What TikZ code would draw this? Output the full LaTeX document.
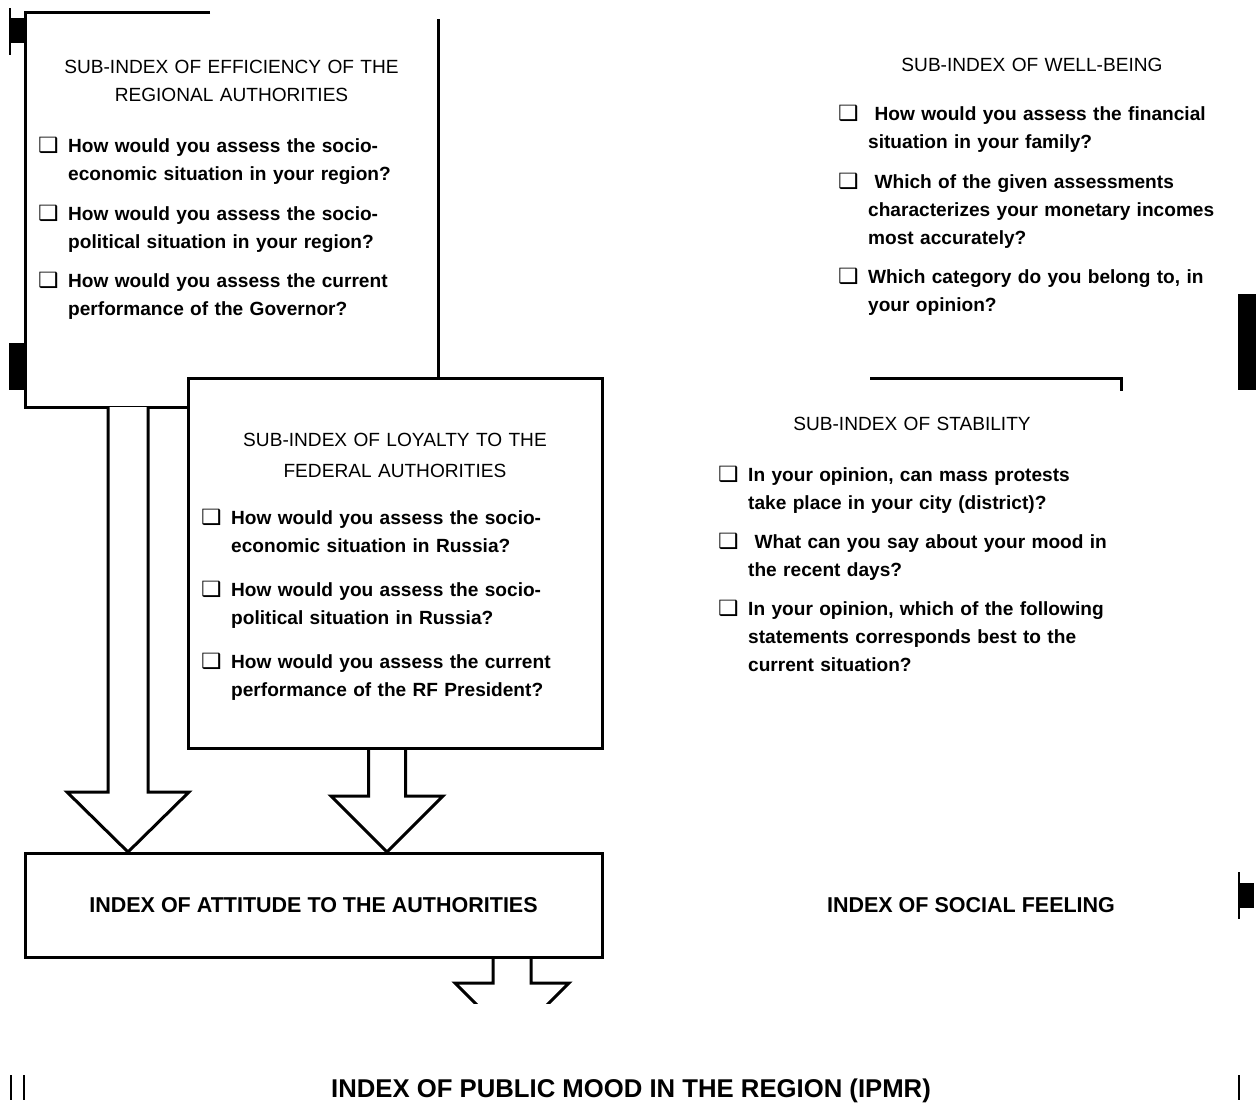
\documentclass[tikz,border=0pt]{standalone}
\usepackage{fontspec}
\setmainfont{Liberation Sans}
\newfontfamily\symfont{DejaVu Sans}
\usepackage{graphicx}
\usepackage{tikz}
\usetikzlibrary{positioning}

\newcommand{\cbox}{\scalebox{1.2}[1.1]{\symfont\char"2751}}
\newcommand{\qitem}[1]{\hangindent=30pt\hangafter=1\makebox[30pt][l]{\cbox}\strut#1\par}
\newcommand{\qgap}[1][12pt]{\vspace{#1}}

\tikzset{
  edge/.style={line width=3pt, line join=miter},
  heading/.style={anchor=base, text width=440pt, align=center, inner sep=0pt,
    font=\fontsize{19.1}{28}\selectfont},
  qblock/.style={anchor=base west, text width=420pt, align=left, inner sep=0pt,
    font=\fontsize{19.1}{28}\selectfont\bfseries},
  title/.style={inner sep=0pt, font=\fontsize{21.5}{26}\selectfont\bfseries},
}

\begin{document}
\begin{tikzpicture}[x=1pt, y=-1pt]
    \useasboundingbox (0,0) rectangle (1256,1106);

    % left block (regional authorities)
    \draw[edge] (210,12) -- (25,12) -- (25,407) -- (188,407);
    \draw[edge] (438,19) -- (438,378);
    \node[heading] (effhead) at (231.5,73) {SUB-INDEX OF EFFICIENCY OF THE\\REGIONAL AUTHORITIES};
    \node[qblock] (effq) at (38,152) {%
        \qitem{How would you assess the socio-\newline economic situation in your region?}\qgap
        \qitem{How would you assess the socio-\newline political situation in your region?}\qgap[11pt]
        \qitem{How would you assess the current\newline performance of the Governor?}};

    % block arrows
    \foreach \x/\top/\neck/\tip/\s/\h in {128/407/792/852/20/61, 387/748/796/852/18.5/56}
        \draw[edge, fill=white] (\x-\s,\top) -- (\x-\s,\neck) -- (\x-\h,\neck) -- (\x,\tip)
            -- (\x+\h,\neck) -- (\x+\s,\neck) -- (\x+\s,\top);
    \begin{scope}
        \clip (0,950) rectangle (1256,1003);
        \draw[edge] (493,957) -- (493,983) -- (455,983) -- (512,1040)
            -- (569,983) -- (531,983) -- (531,957);
    \end{scope}

    % federal authorities
    \draw[edge, fill=white] (188,378) rectangle (602,748);
    \node[heading, font=\fontsize{19.1}{31}\selectfont] (loyhead) at (395,446) {SUB-INDEX OF LOYALTY TO THE\\FEDERAL AUTHORITIES};
    \node[qblock] (loyq) at (201,524) {%
        \qitem{How would you assess the socio-\newline economic situation in Russia?}\qgap[16pt]
        \qitem{How would you assess the socio-\newline political situation in Russia?}\qgap[16pt]
        \qitem{How would you assess the current\newline performance of the RF President?}};

    \node[title, draw, edge, minimum width=577pt, minimum height=104pt] (attitude) at (313.5,905)
        {INDEX OF ATTITUDE TO THE AUTHORITIES};

    % well-being
    \node[heading] (wellhead) at (1032,71) {SUB-INDEX OF WELL-BEING};
    \node[qblock] (wellq) at (838,120) {%
        \qitem{\ How would you assess the financial\newline situation in your family?}\qgap
        \qitem{\ Which of the given assessments\newline characterizes your monetary incomes\newline most accurately?}\qgap[11pt]
        \qitem{Which category do you belong to, in\newline your opinion?}};

    % stability
    \draw[edge] (870,378) -- (1121,378) -- (1121,391);
    \node[heading] (stabhead) at (912,430) {SUB-INDEX OF STABILITY};
    \node[qblock] (stabq) at (718,481) {%
        \qitem{In your opinion, can mass protests\newline take place in your city (district)?}\qgap[11pt]
        \qitem{\ What can you say about your mood in\newline the recent days?}\qgap[11pt]
        \qitem{In your opinion, which of the following\newline statements corresponds best to the\newline current situation?}};

    \node[title, anchor=base] (social) at (971,912) {INDEX OF SOCIAL FEELING};
    \node[title, anchor=base, font=\fontsize{25.7}{30}\selectfont\bfseries] (ipmr) at (631,1097)
        {INDEX OF PUBLIC MOOD IN THE REGION (IPMR)};

    % stray marks at the edges
    \draw[line width=2pt] (10,8) -- (10,55);
    \fill (10,18) rectangle (25,43);
    \fill (9,343) rectangle (25,390);
    \fill (1238,294) rectangle (1256,390);
    \draw[line width=2pt] (1239,872) -- (1239,919);
    \fill (1239,883) rectangle (1254,908);
    \draw[line width=2.5pt] (1239,1075) -- (1239,1100);
    \draw[line width=2pt] (11,1075) -- (11,1100) (24,1075) -- (24,1100);
\end{tikzpicture}
\end{document}
